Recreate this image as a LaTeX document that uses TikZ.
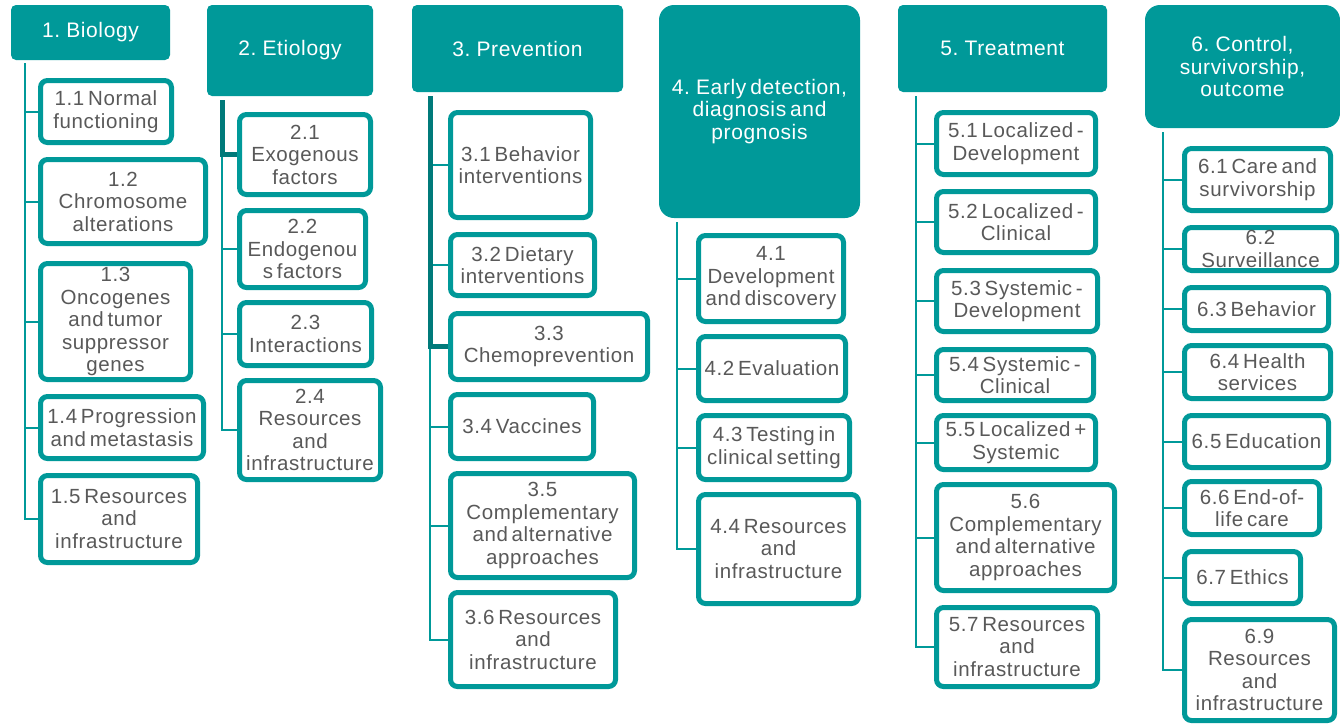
\documentclass[tikz,border=0pt]{standalone}
\usepackage{fontspec}
\setmainfont{Liberation Sans}[LetterSpace=3,WordSpace=0.6]
\usetikzlibrary{backgrounds}
\definecolor{tealA}{RGB}{0,153,153}
\definecolor{tealD}{RGB}{0,122,122}
\definecolor{txtgray}{RGB}{89,89,89}
\begin{document}
\begin{tikzpicture}[x=1pt,y=-1pt,
  head/.style={fill=tealA, draw=none, rounded corners=5pt, text=white, align=center,
    font=\fontsize{21}{22.5}\selectfont, inner sep=0pt},
  headbig/.style={head, rounded corners=15pt},
  child/.style={fill=white, draw=tealA, line width=5pt, rounded corners=7pt, text=txtgray,
    align=center, font=\fontsize{20.5}{22.5}\selectfont, inner sep=0pt},
  conn/.style={draw=tealA, line width=2pt},
  hconn/.style={draw=tealD, line width=5pt, line join=miter}]
\useasboundingbox (0,0) rectangle (1340,723);

% ---- Column 1
\node[head, minimum width=159pt, minimum height=55pt] (h1) at (90.5,32.5) {1. Biology};
\node[child, minimum width=131pt, minimum height=62pt] (n11) at (106,111.5) {1.1 Normal\\functioning};
\node[child, minimum width=165pt, minimum height=84pt] (n12) at (123,201.5) {1.2\\Chromosome\\alterations};
\node[child, minimum width=150pt, minimum height=116pt] (n13) at (115.5,321.5) {1.3\\Oncogenes\\and tumor\\suppressor\\genes};
\node[child, minimum width=163pt, minimum height=62pt] (n14) at (122,427.5) {1.4 Progression\\and metastasis};
\node[child, minimum width=157pt, minimum height=87pt] (n15) at (119,519) {1.5 Resources\\and\\infrastructure};

% ---- Column 2
\node[head, minimum width=166pt, minimum height=91pt] (h2) at (290,50.5) {2. Etiology};
\node[child, minimum width=131pt, minimum height=80pt] (n21) at (305,154.5) {2.1\\Exogenous\\factors};
\node[child, minimum width=126pt, minimum height=77pt] (n22) at (302.5,249) {2.2\\Endogenou\\s factors};
\node[child, minimum width=132pt, minimum height=63pt] (n23) at (305.5,334) {2.3\\Interactions};
\node[child, minimum width=141pt, minimum height=99pt] (n24) at (310,430) {2.4\\Resources\\and\\infrastructure};

% ---- Column 3
\node[head, minimum width=211pt, minimum height=87pt] (h3) at (517.5,48.5) {3. Prevention};
\node[child, minimum width=140pt, minimum height=105pt] (n31) at (520.5,165) {3.1 Behavior\\interventions};
\node[child, minimum width=144pt, minimum height=61pt] (n32) at (522.5,265) {3.2 Dietary\\interventions};
\node[child, minimum width=197pt, minimum height=66pt] (n33) at (549,346.5) {3.3\\Chemoprevention};
\node[child, minimum width=143pt, minimum height=64pt] (n34) at (522,426.5) {3.4 Vaccines};
\node[child, minimum width=184pt, minimum height=104pt] (n35) at (542.5,525.5) {3.5\\Complementary\\and alternative\\approaches};
\node[child, minimum width=165pt, minimum height=94pt] (n36) at (533,639.5) {3.6 Resources\\and\\infrastructure};

% ---- Column 4
\node[headbig, minimum width=201pt, minimum height=213pt] (h4) at (759.5,111.5) {4. Early detection,\\diagnosis and\\prognosis};
\node[child, minimum width=145pt, minimum height=86pt] (n41) at (771,278.5) {4.1\\Development\\and discovery};
\node[child, minimum width=147pt, minimum height=64pt] (n42) at (772,368.5) {4.2 Evaluation};
\node[child, minimum width=151pt, minimum height=64pt] (n43) at (774,447.5) {4.3 Testing in\\clinical setting};
\node[child, minimum width=160pt, minimum height=109pt] (n44) at (778.5,549) {4.4 Resources\\and\\infrastructure};

% ---- Column 5
\node[head, minimum width=209pt, minimum height=87pt] (h5) at (1002.5,48.5) {5. Treatment};
\node[child, minimum width=159pt, minimum height=62pt] (n51) at (1016,143.5) {5.1 Localized -\\Development};
\node[child, minimum width=159pt, minimum height=61pt] (n52) at (1016,222) {5.2 Localized -\\Clinical};
\node[child, minimum width=161pt, minimum height=61pt] (n53) at (1017,301) {5.3 Systemic -\\Development};
\node[child, minimum width=157pt, minimum height=51pt] (n54) at (1015,375) {5.4 Systemic -\\Clinical};
\node[child, minimum width=159pt, minimum height=54pt] (n55) at (1016,442.5) {5.5 Localized +\\Systemic};
\node[child, minimum width=178pt, minimum height=106pt] (n56) at (1025.5,537.5) {5.6\\Complementary\\and alternative\\approaches};
\node[child, minimum width=161pt, minimum height=79pt] (n57) at (1017,647) {5.7 Resources\\and\\infrastructure};

% ---- Column 6
\node[headbig, minimum width=195pt, minimum height=123pt] (h6) at (1242.5,66.5) {6. Control,\\survivorship,\\outcome};
\node[child, minimum width=146pt, minimum height=62pt] (n61) at (1257.5,179.5) {6.1 Care and\\survivorship};
\node[child, minimum width=152pt, minimum height=43pt] (n62) at (1260.5,249) {6.2\\Surveillance};
\node[child, minimum width=144pt, minimum height=43pt] (n63) at (1256.5,309) {6.3 Behavior};
\node[child, minimum width=146pt, minimum height=53pt] (n64) at (1257.5,372) {6.4 Health\\services};
\node[child, minimum width=144pt, minimum height=52pt] (n65) at (1256.5,441.5) {6.5 Education};
\node[child, minimum width=135pt, minimum height=53pt] (n66) at (1252,508) {6.6 End-of-\\life care};
\node[child, minimum width=116pt, minimum height=52pt] (n67) at (1242.5,577.5) {6.7 Ethics};
\node[child, minimum width=150pt, minimum height=101pt] (n69) at (1259.5,670) {6.9\\Resources\\and\\infrastructure};

% ---- spine tops
\coordinate (v1) at (25,63);
\coordinate (v2) at (222,100);
\coordinate (v3) at (430,96);
\coordinate (v4) at (677,222);
\coordinate (v5) at (916,96);
\coordinate (v6) at (1163,132);

\begin{scope}[on background layer]
  \draw[conn] (v1) |- (n15.west);
  \foreach \n in {n11,n12,n13,n14} \draw[conn] (v1 |- \n.west) -- (\n.west);
  \draw[conn] (v2) |- (n24.west);
  \foreach \n in {n22,n23} \draw[conn] (v2 |- \n.west) -- (\n.west);
  \draw[hconn] (v2) |- (n21.west);
  \draw[conn] (v3) |- (n36.west);
  \foreach \n in {n31,n32,n34,n35} \draw[conn] (v3 |- \n.west) -- (\n.west);
  \draw[hconn] (v3) |- (n33.west);
  \draw[conn] (v4) |- (n44.west);
  \foreach \n in {n41,n42,n43} \draw[conn] (v4 |- \n.west) -- (\n.west);
  \draw[conn] (v5) |- (n57.west);
  \foreach \n in {n51,n52,n53,n54,n55,n56} \draw[conn] (v5 |- \n.west) -- (\n.west);
  \draw[conn] (v6) |- (n69.west);
  \foreach \n in {n61,n62,n63,n64,n65,n66,n67} \draw[conn] (v6 |- \n.west) -- (\n.west);
\end{scope}
\end{tikzpicture}
\end{document}
